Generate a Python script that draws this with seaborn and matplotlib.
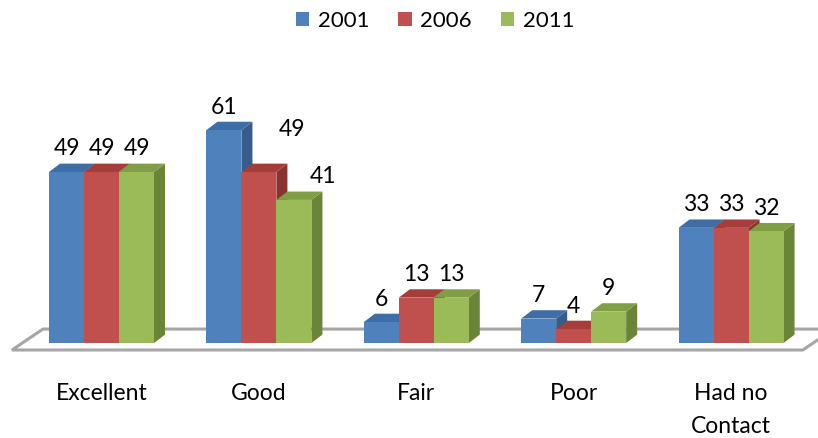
import pandas as pd
import seaborn as sns
import matplotlib.pyplot as plt
from matplotlib.patches import Polygon

# chart values
categories = ["Excellent", "Good", "Fair", "Poor", "Had no\nContact"]
years = ["2001", "2006", "2011"]
values_2001 = [49, 61, 6, 7, 33]
values_2006 = [49, 49, 13, 4, 33]
values_2011 = [49, 41, 13, 9, 32]

colors = ["#4F81BD", "#C0504D", "#9BBB59"]
top_colors = ["#3F6DA6", "#A33E3B", "#819E46"]
side_colors = ["#365C8C", "#8A3230", "#6A8438"]


def set_config():
    sns.set_theme(style="white")
    plt.rcParams["font.family"] = ["Lato", "DejaVu Sans"]


def build_frame():
    rows = []
    for year, vals in zip(years, [values_2001, values_2006, values_2011]):
        for cat, v in zip(categories, vals):
            rows.append({"category": cat, "year": year, "value": v})
    return pd.DataFrame(rows)


def draw_chart(df):
    fig = plt.figure(figsize=(8.18, 4.38), dpi=100)
    ax = fig.add_axes([0.0279, 0.177, 0.962, 0.6375])

    sns.barplot(data=df, x="category", y="value", hue="year", palette=colors,
                width=0.667, gap=0, saturation=1, linewidth=0, ax=ax)

    ax.set_xlim(-0.5, 4.5)
    ax.set_ylim(-5, 75)

    # 3d depth, in data units
    dx, dy = 0.07, 2.4

    # floor slab
    floor = Polygon([(-0.569, -2.0), (-0.569 + 0.197, 4.0), (4.65, 4.0), (4.456 + 0.197, 4.0),
                     (4.456, -2.0)], closed=True, facecolor="white", edgecolor="#A6A6A6",
                    linewidth=2.2, zorder=1, clip_on=False)
    ax.add_patch(floor)

    # label nudges (points) where Excel moved labels aside
    nudges = {(1, 1): (24, 14), (1, 2): (21, 0)}

    bars = []
    for hi, cont in enumerate(ax.containers):
        for ci, rect in enumerate(cont.patches):
            bars.append((rect.get_x(), hi, ci, rect))
    bars.sort(key=lambda b: b[0])

    for order, (x0, hi, ci, rect) in enumerate(bars):
        w = rect.get_width()
        h = rect.get_height()
        z = 3 + order * 3
        rect.set_zorder(z + 2)
        side = Polygon([(x0 + w, 0), (x0 + w + dx, dy), (x0 + w + dx, h + dy), (x0 + w, h)],
                       closed=True, facecolor=side_colors[hi], edgecolor="none", zorder=z)
        top = Polygon([(x0, h), (x0 + dx, h + dy), (x0 + w + dx, h + dy), (x0 + w, h)],
                      closed=True, facecolor=top_colors[hi], edgecolor="none", zorder=z + 1)
        ax.add_patch(side)
        ax.add_patch(top)

        ox, oy = nudges.get((ci, hi), (0, 0))
        ax.annotate(f"{h:.0f}", xy=(x0 + w / 2, h + dy), xytext=(ox, 3 + oy),
                    textcoords="offset points", ha="center", va="bottom",
                    fontsize=16.5, color="black", zorder=100, annotation_clip=False)

    for s in ax.spines.values():
        s.set_visible(False)
    ax.set_yticks([])
    ax.set_xlabel("")
    ax.set_ylabel("")
    ax.tick_params(axis="x", length=0, pad=16, labelsize=16.5, labelcolor="black")
    for lab in ax.get_xticklabels():
        lab.set_linespacing(1.7)

    handles, labels = ax.get_legend_handles_labels()
    ax.get_legend().remove()
    fig.legend(handles, labels, loc="center", bbox_to_anchor=(0.532, 0.952), ncol=3,
               frameon=False, fontsize=16, handlelength=0.6, handleheight=0.6,
               handletextpad=0.4, columnspacing=1.3, labelcolor="black")

    fig.savefig("out.png", dpi=100, facecolor="white")


def main():
    set_config()
    df = build_frame()
    draw_chart(df)


if __name__ == "__main__":
    main()
